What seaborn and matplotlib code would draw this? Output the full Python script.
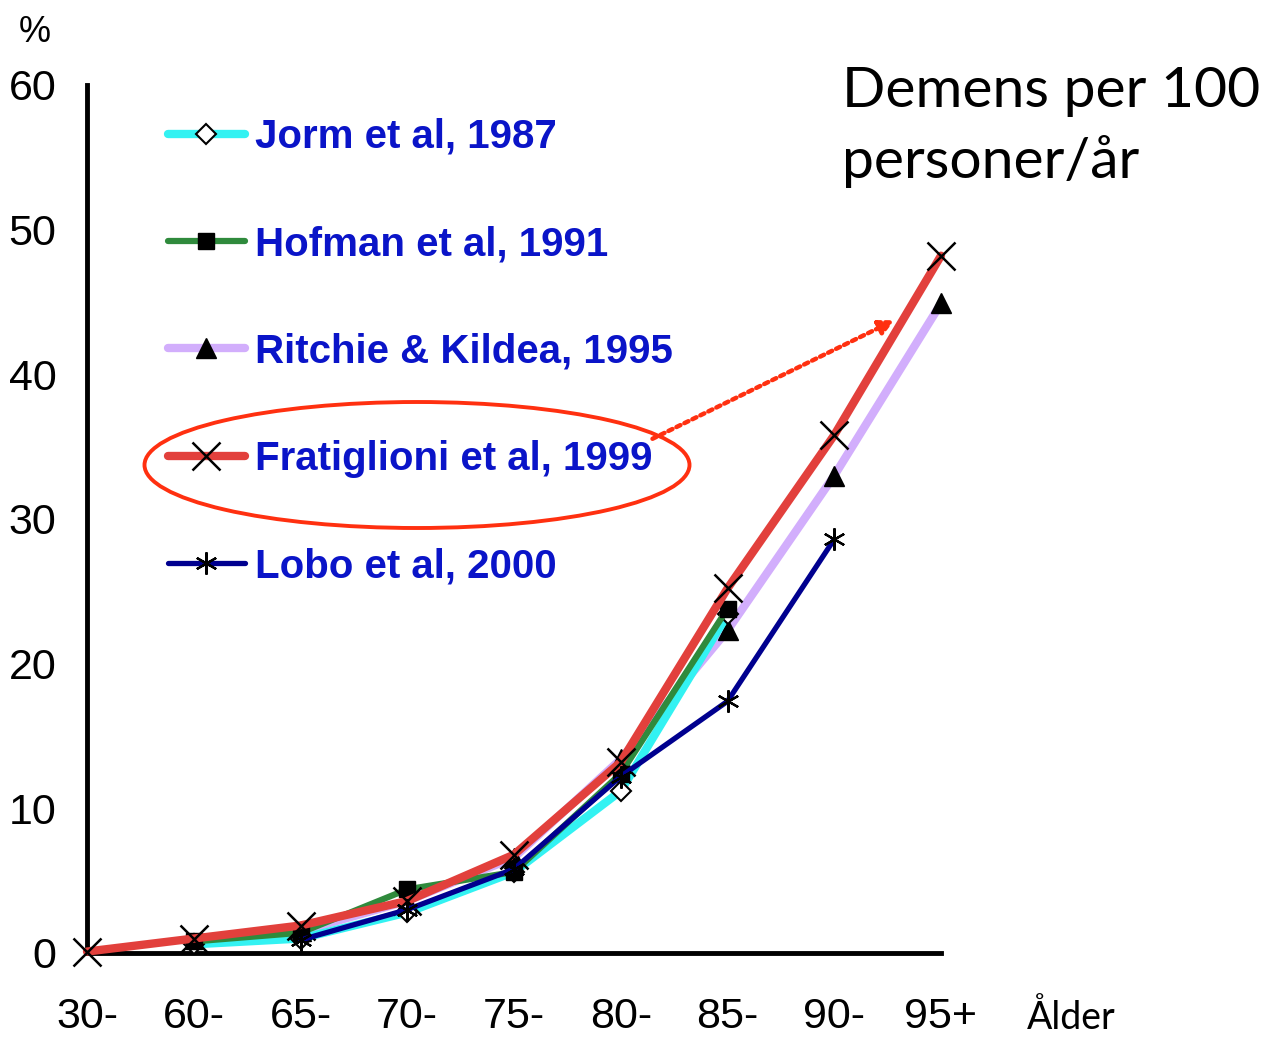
import numpy as np
import pandas as pd
import seaborn as sns
import matplotlib
matplotlib.use("Agg")
import matplotlib.pyplot as plt
from matplotlib.patches import Ellipse, FancyArrowPatch

# ---------------- data ----------------
age_labels = ["30-", "60-", "65-", "70-", "75-", "80-", "85-", "90-", "95+"]

jorm_ages = ["60-", "65-", "70-", "75-", "80-", "85-"]
jorm_vals = [0.6, 1.0, 2.8, 5.6, 11.2, 23.4]

hofman_ages = ["60-", "65-", "70-", "75-", "80-", "85-"]
hofman_vals = [0.8, 1.4, 4.4, 5.6, 12.4, 23.8]

ritchie_ages = ["65-", "70-", "75-", "80-", "85-", "90-", "95+"]
ritchie_vals = [1.5, 3.6, 6.6, 13.4, 22.3, 33.0, 44.9]

frat_ages = ["30-", "60-", "65-", "70-", "75-", "80-", "85-", "90-", "95+"]
frat_vals = [0.1, 1.0, 1.9, 3.6, 6.8, 13.2, 25.2, 35.8, 48.2]

lobo_ages = ["65-", "70-", "75-", "80-", "85-", "90-"]
lobo_vals = [0.9, 3.0, 5.8, 12.2, 17.4, 28.6]

series_names = ["Jorm et al, 1987", "Hofman et al, 1991", "Ritchie & Kildea, 1995",
                "Fratiglioni et al, 1999", "Lobo et al, 2000"]

# ---------------- styling ----------------
sns.set_theme(style="white")
plt.rcParams["font.family"] = ["Liberation Sans Narrow", "DejaVu Sans Condensed",
                               "Liberation Sans", "DejaVu Sans"]
plt.rcParams["text.color"] = "black"
plt.rcParams["xtick.labelcolor"] = "black"
plt.rcParams["ytick.labelcolor"] = "black"

W, H = 1272, 1040
fig = plt.figure(figsize=(W / 100, H / 100), dpi=100)
L, R, B, T = 87 / W, 941 / W, 1 - 953 / H, 1 - 85 / H
ax = fig.add_axes([L, B, R - L, T - B])

pos = {a: i for i, a in enumerate(age_labels)}

def frame(ages, vals, name):
    return pd.DataFrame({"x": [pos[a] for a in ages], "y": vals, "study": name})

styles = {
    "Ritchie & Kildea, 1995": dict(color="#d2aefc", lw=6.0, marker="^", ms=14, mfc="black", mec="black", mew=1, z=2),
    "Jorm et al, 1987": dict(color="#33f2f2", lw=6.0, marker="D", ms=10, mfc="white", mec="black", mew=1.5, z=3),
    "Hofman et al, 1991": dict(color="#2f8a3c", lw=4.5, marker="s", ms=12, mfc="black", mec="black", mew=1, z=4),
    "Fratiglioni et al, 1999": dict(color="#e2403c", lw=6.0, marker="x", ms=20, mfc="black", mec="black", mew=1.8, z=5),
    "Lobo et al, 2000": dict(color="#00008f", lw=3.8, marker=(6, 2, 0), ms=16, mfc="black", mec="black", mew=1.6, z=6),
}
data = {
    "Jorm et al, 1987": frame(jorm_ages, jorm_vals, series_names[0]),
    "Hofman et al, 1991": frame(hofman_ages, hofman_vals, series_names[1]),
    "Ritchie & Kildea, 1995": frame(ritchie_ages, ritchie_vals, series_names[2]),
    "Fratiglioni et al, 1999": frame(frat_ages, frat_vals, series_names[3]),
    "Lobo et al, 2000": frame(lobo_ages, lobo_vals, series_names[4]),
}

for name in ["Ritchie & Kildea, 1995", "Jorm et al, 1987", "Hofman et al, 1991",
             "Fratiglioni et al, 1999", "Lobo et al, 2000"]:
    st = styles[name]
    sns.lineplot(data=data[name], x="x", y="y", ax=ax, color=st["color"], lw=st["lw"],
                 marker=st["marker"], markersize=st["ms"], markerfacecolor=st["mfc"],
                 markeredgecolor=st["mec"], markeredgewidth=st["mew"], zorder=st["z"],
                 label=name, clip_on=False)

handles, labels = ax.get_legend_handles_labels()
if ax.get_legend() is not None:
    ax.get_legend().remove()

ax.set_xlim(0, 8)
ax.set_ylim(0, 60)
ax.set_xticks(range(len(age_labels)))
ax.set_xticklabels(age_labels)
ax.set_yticks(range(0, 61, 10))
ax.set_xlabel("")
ax.set_ylabel("")
for s in ["top", "right"]:
    ax.spines[s].set_visible(False)
for s in ["left", "bottom"]:
    ax.spines[s].set_color("black")
    ax.spines[s].set_linewidth(3.5)
ax.tick_params(axis="x", direction="out", length=11, width=2.5, pad=21, labelsize=31,
               color="black", labelcolor="black")
ax.tick_params(axis="y", direction="out", length=10, width=2.5, pad=12, labelsize=31,
               color="black", labelcolor="black")
ax.patch.set_alpha(0)

# legend
order = [labels.index(n) for n in series_names]
leg = fig.legend([handles[i] for i in order], [labels[i] for i in order],
                 loc="upper left", bbox_to_anchor=(168 / W, 1 - 118 / H),
                 frameon=False, borderpad=0, borderaxespad=0,
                 handlelength=1.9, handletextpad=0.25, labelspacing=1.72,
                 prop={"family": ["Liberation Sans", "DejaVu Sans"], "weight": "bold", "size": 29})
for t in leg.get_texts():
    t.set_color("#0a14c8")

# ellipse and arrow around Fratiglioni
ell = Ellipse((417 / W, 1 - 465 / H), 545 / W, 126 / H, transform=fig.transFigure,
              fill=False, edgecolor="#ff3010", lw=2.8)
fig.patches.append(ell)
fig.add_artist(FancyArrowPatch(
    (650 / W, 1 - 440 / H), (897 / W, 1 - 319 / H), transform=fig.transFigure,
    arrowstyle="-|>", mutation_scale=22, color="#ff3010", lw=3.2, linestyle=(0, (1, 1))))

# texts
fig.text(35 / W, 1 - 33 / H, "%", ha="center", va="center", fontsize=26, color="black",
         family=["Liberation Sans", "DejaVu Sans"])
fig.text(842 / W, 1 - 107 / H, "Demens per 100", ha="left", va="baseline", color="black",
         fontsize=41, family=["Lato", "DejaVu Sans"])
fig.text(842 / W, 1 - 178 / H, "personer/år", ha="left", va="baseline", color="black",
         fontsize=41, family=["Lato", "DejaVu Sans"])
fig.text(1027 / W, 1 - 1018 / H, "Ålder", ha="left", va="center", fontsize=27, color="black",
         family=["Lato", "DejaVu Sans"])

fig.savefig("out.png", dpi=100)
